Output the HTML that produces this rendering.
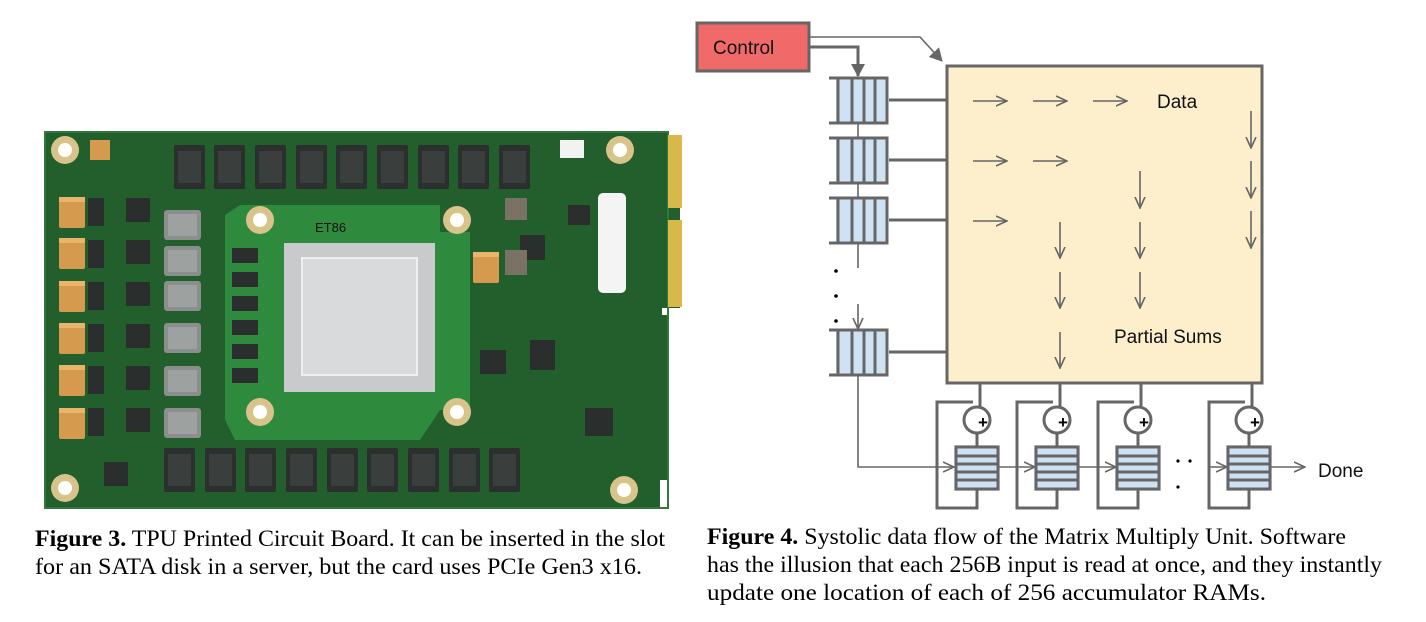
<!DOCTYPE html>
<html><head><meta charset="utf-8"><style>
html,body{margin:0;padding:0;background:#fff;}
svg{display:block;}
.cap{font-family:"Liberation Serif",serif;font-size:23px;fill:#000;}
.lbl{font-family:"Liberation Sans",sans-serif;font-size:19px;fill:#111;}
</style></head><body>
<svg width="1426" height="622" viewBox="0 0 1426 622" xmlns="http://www.w3.org/2000/svg">
<defs>
<marker id="ab" markerWidth="14" markerHeight="14" refX="12" refY="7" orient="auto" markerUnits="userSpaceOnUse"><path d="M0,0 L13,7 L0,14 Z" fill="#666"/></marker>
<marker id="ao" markerWidth="12" markerHeight="12" refX="11" refY="6" orient="auto" markerUnits="userSpaceOnUse"><path d="M0,1 L11,6 L0,11" fill="none" stroke="#666" stroke-width="1.6"/></marker>
<g id="mem"><rect width="31" height="44" fill="#2b2f2e" rx="2"/><rect x="4" y="6" width="23" height="32" fill="#3a3e3c"/></g>
<g id="ind"><rect width="37" height="30" fill="#8a8e8c" rx="3"/><rect x="4" y="4" width="29" height="22" fill="#9da19f"/></g>
<g id="tan"><rect width="26" height="31" fill="#d69a4e" rx="2"/><rect x="0" y="0" width="26" height="5" fill="#e8b56a"/></g>
<g id="hole"><circle r="14" fill="#d8c48a"/><circle r="7" fill="#fff"/></g>
<g id="q"><rect x="836" y="0" width="50" height="45" fill="#cfe2f3"/>
<path d="M829,0 H887 V45 H829 M838,0 V45 M852,0 V45 M864,0 V45 M875,0 V45" fill="none" stroke="#666" stroke-width="3"/></g>
<g id="acc">
<rect x="-23" y="25" width="46" height="46" fill="#cfe2f3" opacity="0.7"/>
<rect x="-21" y="27" width="42" height="42" fill="#cfe2f3" stroke="#666" stroke-width="3"/>
<path d="M-21,36 H21 M-21,44 H21 M-21,52 H21 M-21,60 H21" stroke="#666" stroke-width="3"/>
<circle cx="0" cy="0" r="13" fill="#fff" stroke="#666" stroke-width="3"/>
<text x="1" y="8" font-family="Liberation Sans,sans-serif" font-weight="bold" font-size="17" fill="#000">+</text>
<path d="M3,-37 V-13 M0,13 V27 M-4,-18 H-40 V88 H0 V69" fill="none" stroke="#666" stroke-width="3"/>
</g>
</defs>

<!-- PCB -->
<path d="M45,132 H668 V136 H680 V308 H662 V315 H668 V480 H660 V508 H45 Z" fill="#225f2d"/>
<path d="M45,132 H668 V508 H45 Z" fill="none" stroke="#2f7a3a" stroke-width="2"/>
<rect x="668" y="135" width="14" height="73" fill="#d9b84a"/>
<rect x="668" y="220" width="14" height="87" fill="#d9b84a"/>
<path d="M240,205 H440 V232 H470 V410 H440 L420,440 H235 L225,420 V215 Z" fill="#2e8a3c"/>
<rect x="90" y="140" width="20" height="20" fill="#d69a4e"/>
<g>
<use href="#mem" x="174" y="145"/><use href="#mem" x="214" y="145"/><use href="#mem" x="255" y="145"/><use href="#mem" x="296" y="145"/><use href="#mem" x="336" y="145"/><use href="#mem" x="377" y="145"/><use href="#mem" x="418" y="145"/><use href="#mem" x="458" y="145"/><use href="#mem" x="499" y="145"/>
<use href="#mem" x="164" y="448"/><use href="#mem" x="205" y="448"/><use href="#mem" x="245" y="448"/><use href="#mem" x="286" y="448"/><use href="#mem" x="327" y="448"/><use href="#mem" x="367" y="448"/><use href="#mem" x="408" y="448"/><use href="#mem" x="449" y="448"/><use href="#mem" x="489" y="448"/>
</g>
<g>
<use href="#tan" x="59" y="197"/><use href="#tan" x="59" y="238"/><use href="#tan" x="59" y="281"/><use href="#tan" x="59" y="323"/><use href="#tan" x="59" y="365"/><use href="#tan" x="59" y="408"/>
<use href="#tan" x="473" y="252"/>
</g>
<g fill="#2a2e2d">
<rect x="88" y="198" width="16" height="28"/><rect x="88" y="240" width="16" height="28"/><rect x="88" y="282" width="16" height="28"/><rect x="88" y="324" width="16" height="28"/><rect x="88" y="366" width="16" height="28"/><rect x="88" y="408" width="16" height="28"/>
<rect x="126" y="198" width="24" height="24"/><rect x="126" y="240" width="24" height="24"/><rect x="126" y="282" width="24" height="24"/><rect x="126" y="324" width="24" height="24"/><rect x="126" y="366" width="24" height="24"/><rect x="126" y="408" width="24" height="24"/>
<rect x="232" y="248" width="26" height="15"/><rect x="232" y="272" width="26" height="15"/><rect x="232" y="296" width="26" height="15"/><rect x="232" y="320" width="26" height="15"/><rect x="232" y="344" width="26" height="15"/><rect x="232" y="368" width="26" height="15"/>
<rect x="520" y="235" width="25" height="25"/><rect x="530" y="340" width="25" height="30"/><rect x="585" y="408" width="28" height="28"/><rect x="568" y="205" width="22" height="20"/><rect x="104" y="462" width="24" height="24"/><rect x="480" y="350" width="26" height="24"/>
</g>
<g><use href="#ind" x="164" y="210"/><use href="#ind" x="164" y="246"/><use href="#ind" x="164" y="281"/><use href="#ind" x="164" y="323"/><use href="#ind" x="164" y="366"/><use href="#ind" x="164" y="408"/></g>
<rect x="505" y="198" width="22" height="22" fill="#7a7264"/><rect x="505" y="250" width="22" height="25" fill="#7a7264"/>
<rect x="284" y="243" width="151" height="149" fill="#c8cacb"/>
<rect x="302" y="258" width="115" height="117" fill="#d8dadb" stroke="#eef0f0" stroke-width="2"/>
<text x="315" y="232" font-family="Liberation Sans,sans-serif" font-size="13" fill="#111">ET86</text>
<rect x="598" y="193" width="28" height="100" rx="5" fill="#f4f4f4"/>
<rect x="560" y="140" width="24" height="18" fill="#f2f2f2"/>
<use href="#hole" x="65" y="150"/><use href="#hole" x="620" y="150"/><use href="#hole" x="65" y="488"/><use href="#hole" x="624" y="490"/>
<use href="#hole" x="260" y="220"/><use href="#hole" x="457" y="220"/><use href="#hole" x="260" y="412"/><use href="#hole" x="457" y="412"/>

<!-- Control -->
<rect x="697" y="23" width="112" height="48" fill="#f16a6a" stroke="#666" stroke-width="3"/>
<text x="713" y="54" class="lbl" font-size="20">Control</text>
<path d="M810,47 H858 V76" fill="none" stroke="#666" stroke-width="3" marker-end="url(#ab)"/>
<path d="M810,37 H920 L942,61" fill="none" stroke="#666" stroke-width="1.6" marker-end="url(#ab)"/>

<!-- queues -->
<use href="#q" y="78"/><use href="#q" y="138"/><use href="#q" y="198"/><use href="#q" y="330"/>
<path d="M889,100 H947 M889,160 H947 M889,220 H947 M889,352 H947" stroke="#666" stroke-width="3"/>
<path d="M858,124 V137 M858,184 V197 M858,244 V268 M858,304 V329" stroke="#666" stroke-width="1.6" marker-end="url(#ao)"/>
<circle cx="836" cy="271" r="1.8" fill="#000"/><circle cx="836" cy="296" r="1.8" fill="#000"/><circle cx="836" cy="321" r="1.8" fill="#000"/>

<!-- big box -->
<rect x="947" y="66" width="315" height="317" fill="#fdefcc" stroke="#666" stroke-width="3"/>
<g stroke="#666" stroke-width="1.6" fill="none" marker-end="url(#ao)">
<path d="M973,101 H1007"/><path d="M1033,101 H1067"/><path d="M1093,101 H1127"/>
<path d="M973,161 H1007"/><path d="M1033,161 H1067"/>
<path d="M973,221 H1007"/>
<path d="M1060,222 V258"/><path d="M1060,272 V308"/><path d="M1060,332 V368"/>
<path d="M1140,171 V208"/><path d="M1140,222 V258"/><path d="M1140,272 V308"/>
<path d="M1251,111 V148"/><path d="M1251,161 V198"/><path d="M1251,211 V248"/>
</g>
<text x="1157" y="108" class="lbl">Data</text>
<text x="1114" y="343" class="lbl">Partial Sums</text>

<!-- accumulators -->
<g transform="translate(977,420)"><use href="#acc"/></g>
<g transform="translate(1057,420)"><use href="#acc"/></g>
<g transform="translate(1138,420)"><use href="#acc"/></g>
<g transform="translate(1249,420)"><use href="#acc"/></g>
<g stroke="#666" stroke-width="1.6" fill="none" marker-end="url(#ao)">
<path d="M858,376 V467 H954"/>
<path d="M999,467 H1035"/><path d="M1079,467 H1116"/><path d="M1209,467 H1227"/><path d="M1271,467 H1305"/>
</g>
<circle cx="1178" cy="461" r="1.6" fill="#000"/><circle cx="1190" cy="461" r="1.6" fill="#000"/><circle cx="1178" cy="487" r="1.6" fill="#000"/>
<text x="1318" y="477" class="lbl">Done</text>

<!-- captions -->
<text x="35" y="546" class="cap" textLength="630" lengthAdjust="spacingAndGlyphs"><tspan font-weight="bold">Figure 3.</tspan> TPU Printed Circuit Board. It can be inserted in the slot</text>
<text x="35" y="574" class="cap" textLength="607" lengthAdjust="spacingAndGlyphs">for an SATA disk in a server, but the card uses PCIe Gen3 x16.</text>
<text x="707" y="544" class="cap" textLength="639" lengthAdjust="spacingAndGlyphs"><tspan font-weight="bold">Figure 4.</tspan> Systolic data flow of the Matrix Multiply Unit. Software</text>
<text x="707" y="572" class="cap" textLength="675" lengthAdjust="spacingAndGlyphs">has the illusion that each 256B input is read at once, and they instantly</text>
<text x="707" y="600" class="cap" textLength="559" lengthAdjust="spacingAndGlyphs">update one location of each of 256 accumulator RAMs.</text>
</svg>
</body></html>
